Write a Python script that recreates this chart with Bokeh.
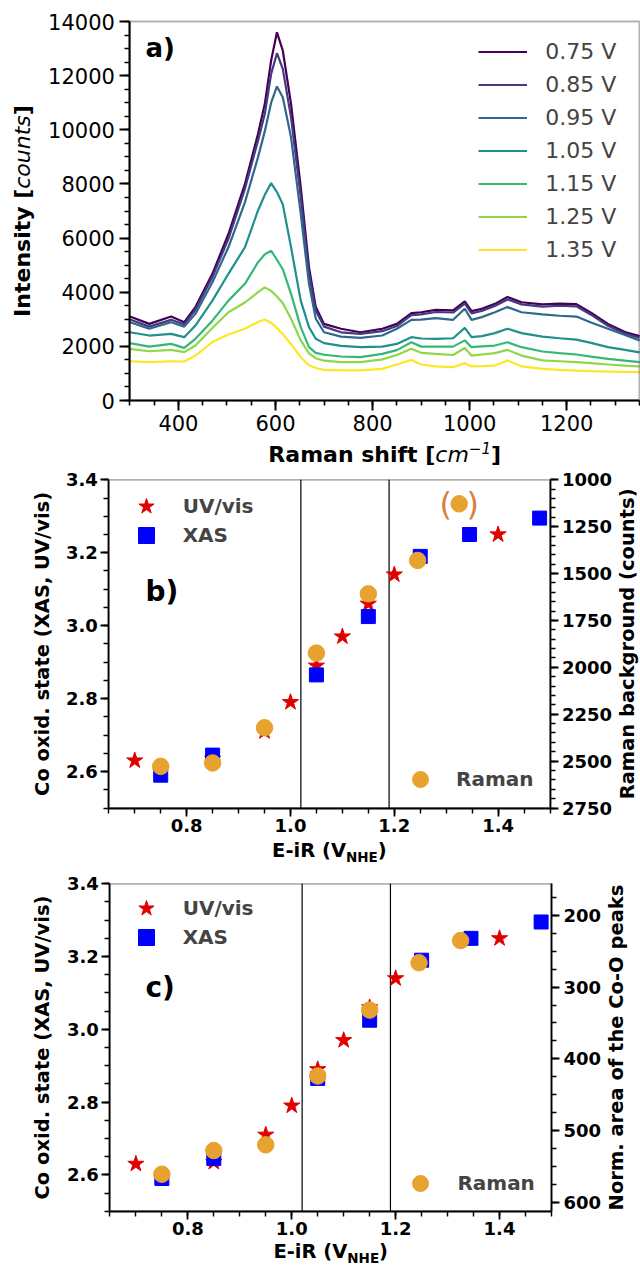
import math
from bokeh.plotting import figure
from bokeh.models import (Range1d, LinearAxis, FixedTicker, PrintfTickFormatter,
                          Label, Legend, LegendItem, BoxAnnotation)
from bokeh.layouts import column
from bokeh.embed import file_html
from bokeh.resources import INLINE
from bokeh.core.properties import value

FONT = "DejaVu Sans"

# ------------------------------------------------------------------ data
raman_shift = [300, 340, 385, 412, 435, 470, 503, 537, 564, 578, 591, 603, 615, 632,
               652, 669, 683, 700, 735, 775, 820, 850, 880, 900, 930, 966, 990, 1004,
               1025, 1052, 1078, 1107, 1150, 1185, 1220, 1250, 1285, 1320, 1350]
int_075 = [3100, 2830, 3100, 2890, 3450, 4680, 6150, 8000, 9850, 10960, 12560, 13600, 12930, 10960,
           7880, 4920, 3450, 2830, 2650, 2520, 2650, 2830, 3230, 3260, 3350, 3330, 3660, 3300,
           3390, 3570, 3820, 3630, 3550, 3580, 3560, 3240, 2830, 2530, 2380]
int_085 = [2990, 2730, 2980, 2810, 3350, 4560, 5970, 7820, 9600, 10590, 12060, 12830, 12250, 10460,
           7510, 4680, 3320, 2730, 2520, 2460, 2560, 2750, 3150, 3180, 3270, 3250, 3580, 3220,
           3310, 3490, 3730, 3550, 3470, 3500, 3480, 3170, 2760, 2470, 2320]
int_095 = [2890, 2650, 2890, 2730, 3200, 4370, 5660, 7320, 8990, 9950, 11000, 11600, 11200, 9720,
           6890, 4310, 3020, 2520, 2360, 2310, 2400, 2650, 2980, 2990, 3040, 2980, 3390, 2980,
           3080, 3260, 3450, 3260, 3180, 3130, 3100, 2880, 2650, 2420, 2220]
int_105 = [2520, 2400, 2460, 2340, 2770, 3690, 4680, 5660, 7020, 7600, 8030, 7700, 7250, 5660,
           3690, 2710, 2280, 2120, 2020, 1970, 1990, 2090, 2340, 2290, 2280, 2300, 2680, 2340,
           2380, 2490, 2650, 2490, 2360, 2300, 2250, 2130, 1970, 1870, 1780]
int_115 = [2120, 1990, 2090, 1945, 2280, 2950, 3690, 4310, 5110, 5400, 5530, 5200, 4850, 3940,
           2710, 1970, 1760, 1690, 1625, 1600, 1720, 1860, 2150, 1990, 1990, 1990, 2220, 1970,
           2000, 2030, 2150, 1970, 1810, 1750, 1700, 1620, 1540, 1470, 1415]
int_125 = [1910, 1820, 1870, 1785, 2030, 2680, 3260, 3620, 4000, 4180, 4050, 3840, 3600, 3020,
           2220, 1740, 1560, 1470, 1420, 1420, 1520, 1680, 1910, 1760, 1720, 1680, 1940, 1660,
           1700, 1750, 1870, 1660, 1480, 1450, 1415, 1380, 1330, 1290, 1255]
int_135 = [1450, 1420, 1450, 1440, 1660, 2160, 2440, 2650, 2900, 2990, 2870, 2680, 2450, 2080,
           1600, 1300, 1200, 1130, 1110, 1110, 1170, 1330, 1500, 1330, 1260, 1230, 1380, 1260,
           1270, 1290, 1480, 1260, 1170, 1130, 1105, 1085, 1070, 1055, 1045]
spectra = [int_075, int_085, int_095, int_105, int_115, int_125, int_135]
spectra_labels = ["0.75 V", "0.85 V", "0.95 V", "1.05 V", "1.15 V", "1.25 V", "1.35 V"]
spectra_colors = ["#440154", "#443982", "#30678D", "#20908C", "#35B778", "#8FD744", "#FDE724"]
a_xrange = (300, 1350)
a_yrange = (0, 14000)
a_xticks = [400, 600, 800, 1000, 1200]
a_yticks = [0, 2000, 4000, 6000, 8000, 10000, 12000, 14000]

uv_x = [0.70, 0.85, 0.95, 1.00, 1.05, 1.10, 1.15, 1.20, 1.40]
uv_y = [2.63, 2.635, 2.71, 2.79, 2.89, 2.97, 3.06, 3.14, 3.25]
xas_x = [0.75, 0.85, 1.05, 1.15, 1.25, 1.345, 1.48]
xas_y = [2.59, 2.645, 2.865, 3.025, 3.19, 3.25, 3.295]
raman_x = [0.75, 0.85, 0.95, 1.05, 1.15, 1.245, 1.325]
raman_bg = [2528, 2510, 2322, 1924, 1608, 1430, 1128]      # panel b, right axis
raman_area = [561, 528, 520, 424, 332, 266, 235]           # panel c, right axis
vlines = [1.02, 1.19]
bc_xrange = (0.65, 1.50)
bc_yrange = (2.5, 3.4)
b_rrange = (2750, 1000)
c_rrange = (612.6, 155.8)
bc_xticks = [0.8, 1.0, 1.2, 1.4]
bc_yticks = [2.6, 2.8, 3.0, 3.2, 3.4]
b_rticks = [1000, 1250, 1500, 1750, 2000, 2250, 2500, 2750]
c_rticks = [200, 300, 400, 500, 600]

# ------------------------------------------------------------------ layout helpers
W = 640
M = 0
HA, HB, HC = 470, 396, 402
A_TOP, B_TOP, C_TOP = M, M + HA, M + HA + HB
BASE_SHIFT = 0.36   # Bokeh places the baseline this many em lower than the anchor

BOLD = {' ': .348, '(': .458, ')': .458, '[': .458, ']': .458, '-': .416, '.': .380,
        'E': .683, 'H': .837, 'N': .837, 'R': .770, 'V': .774, 'I': .372, 'a': .675,
        'e': .678, 'f': .435, 'h': .712, 'i': .343, 'm': 1.042, 'n': .712, 's': .595,
        't': .478, 'y': .650}
OBL = {'c': .550, 'm': .974, 'n': .634, 'o': .612, 's': .521, 't': .392, 'u': .634,
       '\u2212': .838, '1': .636}


def tw(s, size, style):
    tab = BOLD if style == "bold" else OBL
    return sum(tab[ch] for ch in s) * size


def ext_range(r, lo_px, hi_px, span_px):
    """Extend a data range so that the plot box sits at the wanted place of the canvas."""
    upp = (r[1] - r[0]) / span_px
    return (r[0] - lo_px * upp, r[1] + hi_px * upp)


def make_panel(fig_h, fig_top, box, xr, yr, lw):
    bw = box["right"] - box["left"]
    bh = box["bottom"] - box["top"]
    fx = ext_range(xr, box["left"] - M, M + W - box["right"], bw)
    fy = ext_range(yr, fig_top + fig_h - box["bottom"], box["top"] - fig_top, bh)
    p = figure(width=W, height=fig_h, x_range=Range1d(*fx), y_range=Range1d(*fy),
               output_backend="svg", toolbar_location=None,
               min_border_left=0, min_border_right=0, min_border_top=0, min_border_bottom=0)
    p.background_fill_color = "white"
    p.border_fill_color = "white"
    p.grid.visible = False
    p.outline_line_color = None
    g = dict(left=box["left"], bottom=box["bottom"], w=bw, h=bh,
             x0=xr[0], x1=xr[1], y0=yr[0], y1=yr[1], fig_top=fig_top, fig_h=fig_h)
    p.add_layout(BoxAnnotation(left=xr[0], right=xr[1], bottom=yr[0], top=yr[1],
                               fill_alpha=0, fill_color=None, line_color="black",
                               line_width=lw, level="overlay"))
    return p, g


def style_axis(ax, ticks, minor, fmt, size, bold, maj, mino, lw, standoff, loc, bounds):
    ax.fixed_location = loc
    ax.bounds = bounds
    ax.ticker = FixedTicker(ticks=ticks, minor_ticks=minor)
    ax.formatter = PrintfTickFormatter(format=fmt)
    ax.major_label_text_font = FONT
    ax.major_label_text_font_size = f"{size}px"
    ax.major_label_text_font_style = "bold" if bold else "normal"
    ax.major_label_text_color = "black"
    ax.axis_line_color = "black"
    ax.axis_line_width = lw
    ax.major_tick_line_color = "black"
    ax.major_tick_line_width = lw
    ax.minor_tick_line_color = "black"
    ax.minor_tick_line_width = lw * 0.8
    ax.major_tick_in = 0
    ax.major_tick_out = int(maj)
    ax.minor_tick_in = 0
    ax.minor_tick_out = int(mino)
    ax.major_label_standoff = int(standoff)


def to_data(g, px, py):
    x = g["x0"] + (px - g["left"]) / g["w"] * (g["x1"] - g["x0"])
    y = g["y0"] + (g["bottom"] - py) / g["h"] * (g["y1"] - g["y0"])
    return x, y


def label(p, g, px, py, text, size, style="bold", align="left", angle=0.0, color="black"):
    # px, py = wanted baseline position on the page
    if angle == 0.0:
        py = py - BASE_SHIFT * size
    else:
        px = px - BASE_SHIFT * size
    x, y = to_data(g, px, py)
    p.add_layout(Label(x=x, y=y, text=text, text_font=FONT, text_font_size=f"{size}px",
                       text_font_style=style, text_align=align, text_baseline="alphabetic",
                       angle=angle, text_color=color))


def composite(p, g, pieces, center, base, vertical=False):
    widths = [tw(t, s, st) for t, s, st, _ in pieces]
    total = sum(widths)
    if not vertical:
        P = center - total / 2 + widths[0]
        pos = P
        for i, (t, s, st, sh) in enumerate(pieces):
            sty = "bold" if st == "bold" else "italic"
            if i == 0:
                label(p, g, P, base - sh, t, s, sty, "right")
            else:
                label(p, g, pos, base - sh, t, s, sty, "left")
                pos += widths[i]
    else:
        P = center + total / 2 - widths[0]
        pos = P
        for i, (t, s, st, sh) in enumerate(pieces):
            sty = "bold" if st == "bold" else "italic"
            if i == 0:
                label(p, g, base - sh, P, t, s, sty, "right", math.pi / 2)
            else:
                label(p, g, base - sh, pos, t, s, sty, "left", math.pi / 2)
                pos -= widths[i]


def legend_at(g, item, page_left, page_cy, row_h, standoff, size, bold):
    """Legend whose glyph box starts at page_left and whose block is centred at page_cy."""
    bottom_page = page_cy + row_h / 2
    vx = page_left - M
    vy = (g["fig_top"] + g["fig_h"]) - bottom_page
    return Legend(items=item, location=(vx, vy), padding=0, margin=0, spacing=0,
                  label_standoff=int(standoff), border_line_color=None,
                  background_fill_alpha=0, label_text_font=FONT,
                  label_text_font_size=f"{size}px",
                  label_text_font_style="bold" if bold else "normal")


# ------------------------------------------------------------------ panel a
box_a = dict(left=129.4, right=639, top=21, bottom=400)
pa, ga = make_panel(HA, A_TOP, box_a, a_xrange, a_yrange, 2)
style_axis(pa.xaxis[0], a_xticks, list(range(300, 1351, 50)), "%d", 21, False, 10, 5, 2, 4,
           a_yrange[0], a_xrange)
style_axis(pa.yaxis[0], a_yticks, list(range(0, 14001, 500)), "%d", 21, False, 10, 5, 2, 5,
           a_xrange[0], a_yrange)

items = []
for ys, lab_, col in zip(spectra, spectra_labels, spectra_colors):
    r = pa.line(raman_shift, ys, line_color=col, line_width=2.2)
    items.append(LegendItem(label=lab_, renderers=[r]))
# 7 rows of 33 px, first row centred at page y 51.7
leg_a = legend_at(ga, items, 478.3, 51.7 + 3 * 33, 7 * 33, 18, 22, False)
leg_a.glyph_width = 49
leg_a.glyph_height = 33
leg_a.label_height = 33
pa.add_layout(leg_a)

label(pa, ga, 145, 57, "a)", 26)
composite(pa, ga, [("Raman shift [", 22, "bold", 0), ("cm", 22, "obl", 0),
                   ("\u22121", 15, "obl", 9), ("]", 22, "bold", 0)],
          center=(box_a["left"] + box_a["right"]) / 2, base=462)
composite(pa, ga, [("Intensity [", 22, "bold", 0), ("counts", 22, "obl", 0),
                   ("]", 22, "bold", 0)],
          center=(box_a["top"] + box_a["bottom"]) / 2, base=30, vertical=True)


# ------------------------------------------------------------------ panels b, c
def panel_bc(fig_h, fig_top, box, rrange, right_ticks, right_minor, raman_vals,
             tag, tag_base, right_title, right_base, xlab_base, leg_rows, paren):
    p, g = make_panel(fig_h, fig_top, box, bc_xrange, bc_yrange, 1.8)
    bh = box["bottom"] - box["top"]
    fy = ext_range(rrange, fig_top + fig_h - box["bottom"], box["top"] - fig_top, bh)
    p.extra_y_ranges = {"right": Range1d(*fy)}
    ax_r = LinearAxis(y_range_name="right")
    p.add_layout(ax_r, "right")
    xminor = [round(0.65 + 0.05 * i, 2) for i in range(18)]
    yminor = [round(2.5 + 0.05 * i, 2) for i in range(19)]
    style_axis(p.xaxis[0], bc_xticks, xminor, "%.1f", 18, True, 8, 5, 1.8, 3,
               bc_yrange[0], bc_xrange)
    style_axis(p.yaxis[0], bc_yticks, yminor, "%.1f", 18, True, 8, 5, 1.8, 3,
               bc_xrange[0], bc_yrange)
    style_axis(ax_r, right_ticks, right_minor, "%d", 18, True, 8, 5, 1.8, 4,
               bc_xrange[1], (min(rrange), max(rrange)))

    p.segment(x0=vlines, x1=vlines, y0=[bc_yrange[0]] * len(vlines),
              y1=[bc_yrange[1]] * len(vlines), line_color="black", line_width=1.2)

    r_uv = p.scatter(uv_x, uv_y, marker="star", size=17, fill_color="#e00000",
                     line_color="#e00000", line_width=1)
    r_xas = p.scatter(xas_x, xas_y, marker="square", size=14, fill_color="#0000ff",
                      line_color="#0000ff", line_width=1)
    r_ram = p.scatter(raman_x, raman_vals, marker="circle", size=16.5, fill_color="#e8a22f",
                      line_color="#e8a22f", line_width=1, y_range_name="right")
    if paren:
        for t, dx in (("(", -13.5), (")", 13.5)):
            p.text(x=[raman_x[-1]], y=[raman_vals[-1]], text=[t], x_offset=dx,
                   text_align="center", text_baseline="middle", y_range_name="right",
                   text_font=value(FONT), text_font_size=value("32px"),
                   text_color="#d8803f")

    for (name, rend), (left, cy, so) in zip(
            [("UV/vis", r_uv), ("XAS", r_xas), ("Raman", r_ram)], leg_rows):
        lg = legend_at(g, [LegendItem(label=name, renderers=[rend])], left, cy, 40, so, 20, True)
        lg.glyph_width = 40
        lg.glyph_height = 40
        lg.label_height = 40
        p.add_layout(lg)

    label(p, g, 145, tag_base, tag, 28)
    mid = (box["top"] + box["bottom"]) / 2
    label(p, g, 49, mid, "Co oxid. state (XAS, UV/vis)", 19.5, align="center",
          angle=math.pi / 2)
    label(p, g, right_base, mid, right_title, 19.5, align="center", angle=math.pi / 2)
    composite(p, g, [("E-iR (V", 19.5, "bold", 0), ("NHE", 13.5, "bold", -4),
                     (")", 19.5, "bold", 0)],
              center=(box["left"] + box["right"]) / 2, base=xlab_base)
    return p


box_b = dict(left=108.3, right=549.5, top=479.3, bottom=807.5)
pb = panel_bc(HB, B_TOP, box_b, b_rrange, b_rticks, list(range(1000, 2751, 50)), raman_bg,
              "b)", 601, "Raman background (counts)", 634, 857,
              [(125.7, 506, 17), (125.7, 535, 17), (400, 779, 16)], True)
box_c = dict(left=109.4, right=551, top=883.3, bottom=1210.7)
pc = panel_bc(HC, C_TOP, box_c, c_rrange, c_rticks, list(range(175, 601, 25)), raman_area,
              "c)", 996.7, "Norm. area of the Co-O peaks", 623, 1258.5,
              [(125.7, 908.3, 17), (125.7, 937.3, 17), (400.4, 1182.7, 17)], False)

layout = column(pa, pb, pc, spacing=0)
open("out.html", "w").write(file_html(layout, INLINE))
